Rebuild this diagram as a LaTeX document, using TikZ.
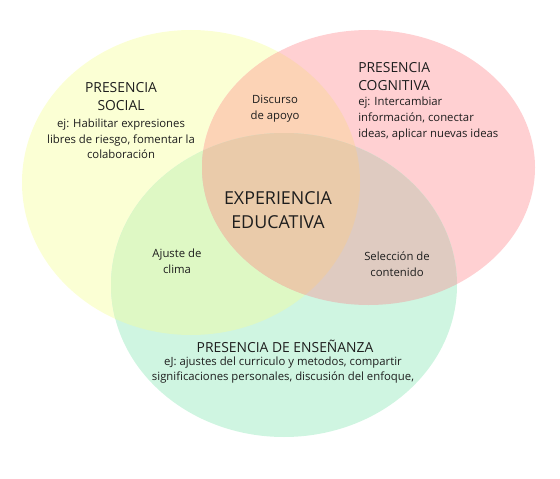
\documentclass[tikz,border=0pt]{standalone}
\usepackage{fontspec}
\setmainfont{Open Sans}
\definecolor{colS}{HTML}{FBFFD4}
\definecolor{colC}{HTML}{FFD0D2}
\definecolor{colE}{HTML}{CFF5E1}
\definecolor{colSC}{HTML}{FCD3B6}
\definecolor{colSE}{HTML}{DEF8C4}
\definecolor{colCE}{HTML}{DFCBC1}
\definecolor{colSCE}{HTML}{EACBAA}
\definecolor{texto}{HTML}{1E1E1E}
\newcommand{\elS}{(191,182.5) ellipse [x radius=169, y radius=152.5]}
\newcommand{\elC}{(368.5,167.5) ellipse [x radius=166.5, y radius=137.5]}
\newcommand{\elE}{(284,285) ellipse [x radius=173, y radius=152]}
\tikzset{
  titulo/.style={align=center,inner sep=0pt,text=texto,font=\fontsize{10.4}{13.5}\selectfont},
  nota/.style={align=center,inner sep=0pt,text=texto,font=\fontsize{8.5}{11.8}\selectfont},
  centro/.style={align=center,inner sep=0pt,text=texto,font=\fontsize{13.4}{18}\selectfont}
}
\begin{document}
\begin{tikzpicture}[x=0.75pt,y=-0.75pt]
  \useasboundingbox (0,0) rectangle (560,478);
  \fill[colS] \elS;
  \fill[colC] \elC;
  \fill[colE] \elE;
  \begin{scope}
    \clip \elS;
    \fill[colSC] \elC;
    \fill[colSE] \elE;
  \end{scope}
  \begin{scope}
    \clip \elC;
    \fill[colCE] \elE;
    \clip \elS;
    \fill[colSCE] \elE;
  \end{scope}
  \node[titulo] (social) at (121,97) {PRESENCIA\\SOCIAL};
  \node[nota] (socialej) at (121,139) {ej: Habilitar expresiones\\libres de riesgo, fomentar la\\colaboración};
  \node[titulo,align=left,anchor=west] (cognitiva) at (358,77) {PRESENCIA\\COGNITIVA};
  \node[nota,align=left,anchor=west] (cognitivaej) at (358,118.5) {ej: Intercambiar\\información, conectar\\ideas, aplicar nuevas ideas};
  \node[nota] (discurso) at (275,109) {Discurso\\de apoyo};
  \node[centro] (experiencia) at (278,210) {EXPERIENCIA\\EDUCATIVA};
  \node[nota] (ajuste) at (177,261.5) {Ajuste de\\clima};
  \node[nota] (seleccion) at (397,264.5) {Selección de\\contenido};
  \node[titulo] (ensenanza) at (285,346) {PRESENCIA DE ENSEÑANZA};
  \node[nota] (ensenanzaej) at (283,370) {eJ: ajustes del curriculo y metodos, compartir\\significaciones personales, discusión del enfoque,};
\end{tikzpicture}
\end{document}
